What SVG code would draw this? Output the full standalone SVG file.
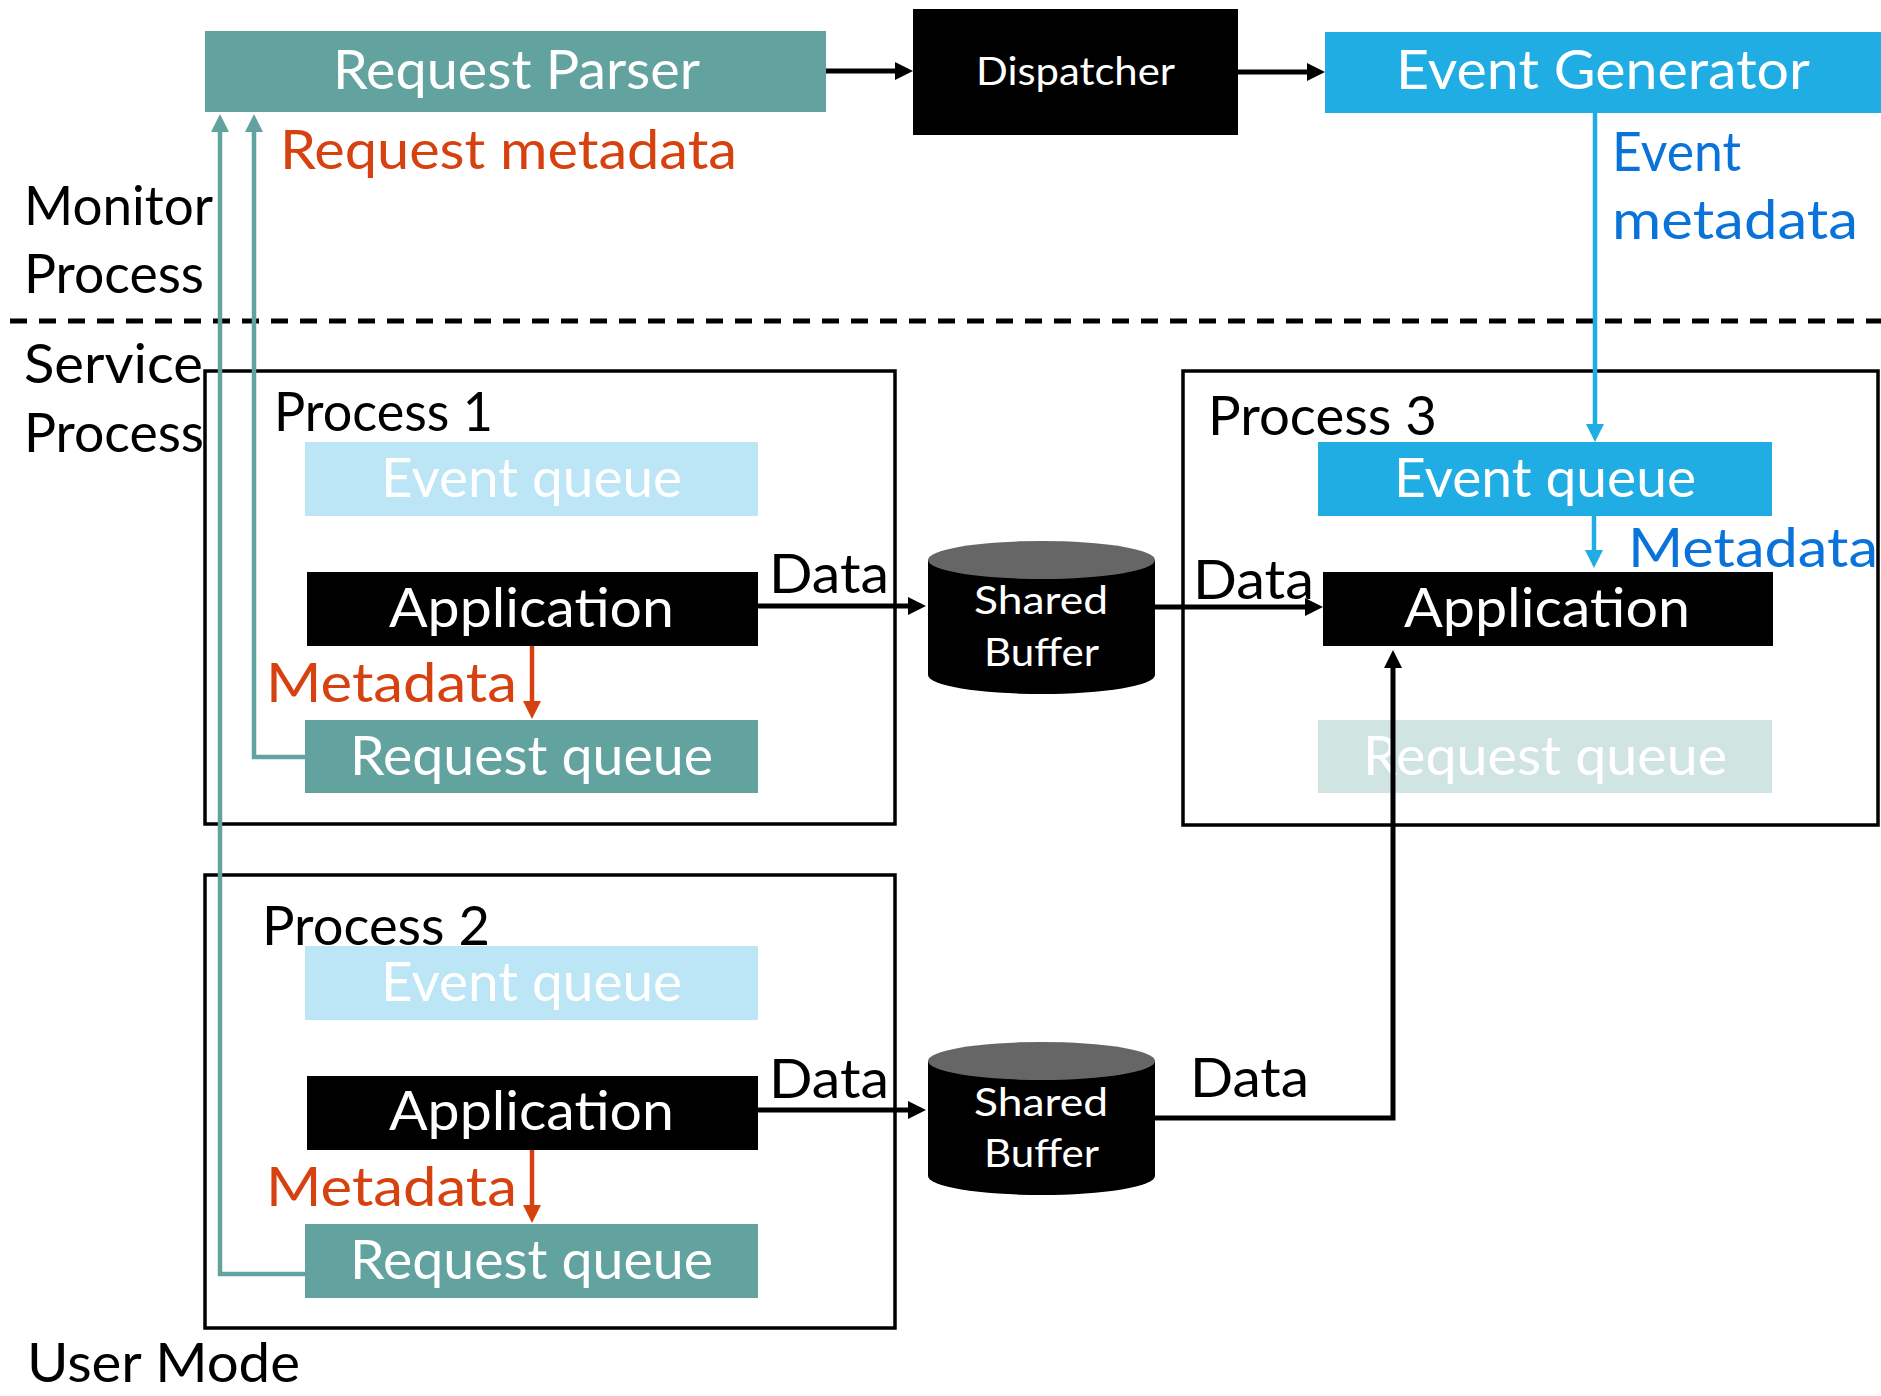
<svg xmlns="http://www.w3.org/2000/svg" width="1881" height="1396" viewBox="0 0 1881 1396">
  <style>
    text { font-family: Lato, "Liberation Sans", "DejaVu Sans", sans-serif; font-size: 54px; }
    .w { fill: #ffffff; }
    .k { fill: #000000; }
    .or { fill: #D6420F; }
    .bl { fill: #0A73D9; }
    .sm { font-size: 39px; }
    .box { fill: none; stroke: #000; stroke-width: 3.5; }
    .teal { fill: #63A39F; }
    .sky { fill: #1FADE4; }
    .skyLt { fill: #BCE5F5; }
    .tealLt { fill: #D0E4E2; }
    .blk { fill: #000; }
    .cTop { fill: #666666; }
    .ln { fill: none; }
    .lk { stroke: #000; stroke-width: 5; }
    .lt { stroke: #63A39F; stroke-width: 4.5; }
    .lo { stroke: #D6420F; stroke-width: 4.5; }
    .lb { stroke: #1FADE4; stroke-width: 4.5; }
  </style>
  <defs>
    <marker id="ak" markerUnits="userSpaceOnUse" markerWidth="18" markerHeight="18" refX="8" refY="9" orient="auto">
      <path d="M0,0 L18,9 L0,18 z" fill="#000"/>
    </marker>
    <marker id="at" markerUnits="userSpaceOnUse" markerWidth="18" markerHeight="18" refX="8" refY="9" orient="auto">
      <path d="M0,0 L18,9 L0,18 z" fill="#63A39F"/>
    </marker>
    <marker id="ao" markerUnits="userSpaceOnUse" markerWidth="18" markerHeight="18" refX="8" refY="9" orient="auto">
      <path d="M0,0 L18,9 L0,18 z" fill="#D6420F"/>
    </marker>
    <marker id="ab" markerUnits="userSpaceOnUse" markerWidth="18" markerHeight="18" refX="8" refY="9" orient="auto">
      <path d="M0,0 L18,9 L0,18 z" fill="#1FADE4"/>
    </marker>
  </defs>

  <!-- boundary between monitor and service processes -->
  <line x1="10" y1="321" x2="1881" y2="321" stroke="#000" stroke-width="5" stroke-dasharray="17 12"/>

  <!-- side labels -->
  <g id="labels">
    <text class="k" x="24" y="225" textLength="189" lengthAdjust="spacingAndGlyphs">Monitor</text>
    <text class="k" x="24" y="293" textLength="180" lengthAdjust="spacingAndGlyphs">Process</text>
    <text class="k" x="24" y="383" textLength="179" lengthAdjust="spacingAndGlyphs">Service</text>
    <text class="k" x="24" y="452" textLength="180" lengthAdjust="spacingAndGlyphs">Process</text>
    <text class="k" x="27" y="1382" textLength="273" lengthAdjust="spacingAndGlyphs">User Mode</text>
  </g>

  <!-- process containers -->
  <g id="process1">
    <rect class="box" x="205" y="371" width="690" height="453"/>
    <text class="k" x="274" y="431" textLength="219" lengthAdjust="spacingAndGlyphs">Process 1</text>
  </g>
  <g id="process2">
    <rect class="box" x="205" y="875" width="690" height="453"/>
    <text class="k" x="262" y="945" textLength="228" lengthAdjust="spacingAndGlyphs">Process 2</text>
  </g>
  <g id="process3">
    <rect class="box" x="1183" y="371" width="695" height="454"/>
    <text class="k" x="1208" y="435" textLength="229" lengthAdjust="spacingAndGlyphs">Process 3</text>
  </g>

  <!-- monitor process nodes -->
  <g id="request-parser">
    <rect class="teal" x="205" y="31" width="621" height="81"/>
    <text class="w" x="333" y="89" textLength="367" lengthAdjust="spacingAndGlyphs">Request Parser</text>
  </g>
  <g id="dispatcher">
    <rect class="blk" x="913" y="9" width="325" height="126"/>
    <text class="w sm" x="976" y="85" textLength="199" lengthAdjust="spacingAndGlyphs">Dispatcher</text>
  </g>
  <g id="event-generator">
    <rect class="sky" x="1325" y="32" width="556" height="81"/>
    <text class="w" x="1396" y="89" textLength="414" lengthAdjust="spacingAndGlyphs">Event Generator</text>
  </g>

  <!-- process 1 contents -->
  <g id="p1-event-queue">
    <rect class="skyLt" x="305" y="442" width="453" height="74"/>
    <text class="w" x="381" y="497" textLength="301" lengthAdjust="spacingAndGlyphs">Event queue</text>
  </g>
  <g id="p1-application">
    <rect class="blk" x="307" y="572" width="451" height="74"/>
    <text class="w" x="389" y="627" textLength="285" lengthAdjust="spacingAndGlyphs">Application</text>
  </g>
  <g id="p1-request-queue">
    <rect class="teal" x="305" y="720" width="453" height="73"/>
    <text class="w" x="350" y="775" textLength="363" lengthAdjust="spacingAndGlyphs">Request queue</text>
  </g>

  <!-- process 2 contents -->
  <g id="p2-event-queue">
    <rect class="skyLt" x="305" y="946" width="453" height="74"/>
    <text class="w" x="381" y="1001" textLength="301" lengthAdjust="spacingAndGlyphs">Event queue</text>
  </g>
  <g id="p2-application">
    <rect class="blk" x="307" y="1076" width="451" height="74"/>
    <text class="w" x="389" y="1130" textLength="285" lengthAdjust="spacingAndGlyphs">Application</text>
  </g>
  <g id="p2-request-queue">
    <rect class="teal" x="305" y="1224" width="453" height="74"/>
    <text class="w" x="350" y="1279" textLength="363" lengthAdjust="spacingAndGlyphs">Request queue</text>
  </g>

  <!-- process 3 contents -->
  <g id="p3-event-queue">
    <rect class="sky" x="1318" y="442" width="454" height="74"/>
    <text class="w" x="1394" y="497" textLength="302" lengthAdjust="spacingAndGlyphs">Event queue</text>
  </g>
  <g id="p3-application">
    <rect class="blk" x="1323" y="572" width="450" height="74"/>
    <text class="w" x="1404" y="627" textLength="286" lengthAdjust="spacingAndGlyphs">Application</text>
  </g>
  <g id="p3-request-queue">
    <rect class="tealLt" x="1318" y="720" width="454" height="73"/>
    <text class="w" x="1363" y="775" textLength="364" lengthAdjust="spacingAndGlyphs">Request queue</text>
  </g>

  <!-- shared buffers -->
  <g id="shared-buffer-1">
    <path class="blk" d="M928,560 V675 A113.5,19 0 0 0 1155,675 V560 Z"/>
    <ellipse class="cTop" cx="1041.5" cy="560" rx="113.5" ry="19"/>
    <text class="w sm" x="974" y="614" textLength="134" lengthAdjust="spacingAndGlyphs">Shared</text>
    <text class="w sm" x="984" y="666" textLength="115" lengthAdjust="spacingAndGlyphs">Buffer</text>
  </g>
  <g id="shared-buffer-2">
    <path class="blk" d="M928,1061 V1176 A113.5,19 0 0 0 1155,1176 V1061 Z"/>
    <ellipse class="cTop" cx="1041.5" cy="1061" rx="113.5" ry="19"/>
    <text class="w sm" x="974" y="1116" textLength="134" lengthAdjust="spacingAndGlyphs">Shared</text>
    <text class="w sm" x="984" y="1167" textLength="115" lengthAdjust="spacingAndGlyphs">Buffer</text>
  </g>

  <!-- connectors -->
  <g id="connectors">
    <path class="ln lk" d="M826,71 H903" marker-end="url(#ak)"/>
    <path class="ln lk" d="M1238,72 H1315" marker-end="url(#ak)"/>

    <path class="ln lt" d="M305,1274 H220 V124" marker-end="url(#at)"/>
    <path class="ln lt" d="M305,757 H254 V124" marker-end="url(#at)"/>

    <path class="ln lb" d="M1595,113 V432" marker-end="url(#ab)"/>
    <path class="ln lb" d="M1594,516 V558" marker-end="url(#ab)"/>

    <path class="ln lo" d="M532,646 V709" marker-end="url(#ao)"/>
    <path class="ln lo" d="M532,1150 V1213" marker-end="url(#ao)"/>

    <path class="ln lk" d="M758,606 H916" marker-end="url(#ak)"/>
    <path class="ln lk" d="M1155,607 H1313" marker-end="url(#ak)"/>
    <path class="ln lk" d="M758,1110 H916" marker-end="url(#ak)"/>
    <path class="ln lk" d="M1155,1118 H1393 V660" marker-end="url(#ak)"/>
  </g>

  <!-- connector labels -->
  <g id="connector-labels">
    <text class="or" x="280" y="169" textLength="457" lengthAdjust="spacingAndGlyphs">Request metadata</text>
    <text class="bl" x="1612" y="171" textLength="129" lengthAdjust="spacingAndGlyphs">Event</text>
    <text class="bl" x="1612" y="239" textLength="246" lengthAdjust="spacingAndGlyphs">metadata</text>
    <text class="bl" x="1628" y="567" textLength="250" lengthAdjust="spacingAndGlyphs">Metadata</text>
    <text class="or" x="266" y="702" textLength="251" lengthAdjust="spacingAndGlyphs">Metadata</text>
    <text class="or" x="266" y="1206" textLength="251" lengthAdjust="spacingAndGlyphs">Metadata</text>
    <text class="k" x="769" y="593" textLength="120" lengthAdjust="spacingAndGlyphs">Data</text>
    <text class="k" x="769" y="1098" textLength="120" lengthAdjust="spacingAndGlyphs">Data</text>
    <text class="k" x="1193" y="599" textLength="121" lengthAdjust="spacingAndGlyphs">Data</text>
    <text class="k" x="1190" y="1097" textLength="119" lengthAdjust="spacingAndGlyphs">Data</text>
  </g>
</svg>
